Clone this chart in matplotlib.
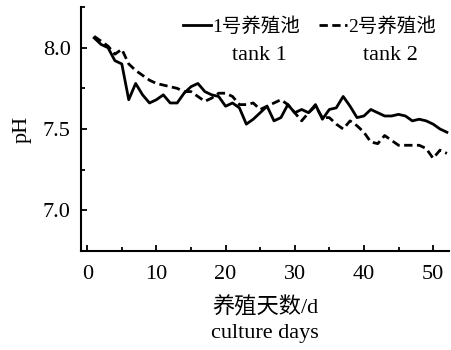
import numpy as np
import matplotlib.pyplot as plt
from matplotlib.ticker import MultipleLocator

plt.rcParams['font.family'] = ['Liberation Serif', 'Noto Sans CJK SC']
plt.rcParams['font.size'] = 16

# days of culture
days = np.arange(1, 53)

# pH, tank 1 (solid)
ph_tank1 = [8.06, 8.02, 8.00, 7.92, 7.90, 7.68, 7.78, 7.71, 7.66, 7.68,
            7.71, 7.66, 7.66, 7.72, 7.76, 7.78, 7.73, 7.71, 7.70, 7.64,
            7.66, 7.63, 7.53, 7.56, 7.60, 7.64, 7.55, 7.57, 7.65, 7.60,
            7.62, 7.60, 7.65, 7.56, 7.62, 7.63, 7.70, 7.64, 7.57, 7.58,
            7.62, 7.60, 7.58, 7.58, 7.59, 7.58, 7.55, 7.56, 7.55, 7.53,
            7.50, 7.48]

# pH, tank 2 (dashed)
ph_tank2 = [8.07, 8.04, 8.01, 7.96, 7.99, 7.90, 7.86, 7.83, 7.80, 7.78,
            7.77, 7.76, 7.75, 7.73, 7.73, 7.70, 7.67, 7.69, 7.72, 7.72,
            7.70, 7.65, 7.65, 7.66, 7.62, 7.64, 7.66, 7.68, 7.65, 7.60,
            7.55, 7.60, 7.64, 7.57, 7.57, 7.53, 7.50, 7.55, 7.52, 7.48,
            7.42, 7.41, 7.46, 7.43, 7.40, 7.40, 7.40, 7.40, 7.38, 7.32,
            7.37, 7.35]

labels_cn = ['1号养殖池', '2号养殖池']
labels_en = ['tank 1', 'tank 2']

W, H = 451, 350
fig = plt.figure(figsize=(W / 100, H / 100), dpi=100)
ax = fig.add_axes([81 / W, 1 - 251 / H, (449 - 81) / W, (251 - 7) / H])

ax.plot(days, ph_tank1, color='black', lw=2.0, label=labels_cn[0])
ax.plot(days, ph_tank2, color='black', lw=2.0, ls=(0, (3, 1.6)), label=labels_cn[1])

ax.set_xlim(-0.9, 52.3)
ax.set_ylim(6.75, 8.25)
ax.xaxis.set_major_locator(MultipleLocator(10))
ax.xaxis.set_minor_locator(MultipleLocator(5))
ax.yaxis.set_major_locator(MultipleLocator(0.5))
ax.yaxis.set_minor_locator(MultipleLocator(0.25))
ax.yaxis.set_major_formatter(plt.FormatStrFormatter('%.1f'))

for s in ['top', 'right']:
    ax.spines[s].set_visible(False)
for s in ['left', 'bottom']:
    ax.spines[s].set_linewidth(1.5)
ax.tick_params(which='both', direction='in', width=1.3)
ax.tick_params(which='major', length=4.5)
ax.tick_params(which='minor', length=3)
ax.tick_params(axis='x', pad=10)
ax.tick_params(axis='y', pad=7.5)

ax.set_ylabel('pH', labelpad=8)
ax.set_xlabel('养殖天数/d\nculture days', labelpad=9, linespacing=1.45)

leg = fig.legend(ncol=2, loc='center left', bbox_to_anchor=(183 / W, 1 - 27 / H),
                 frameon=False, fontsize=14, handlelength=1.45, handletextpad=0.05,
                 columnspacing=0.95, borderpad=0, borderaxespad=0)
fig.text(259 / W, 1 - 55 / H, labels_en[0], ha='center', va='center')
fig.text(390 / W, 1 - 55 / H, labels_en[1], ha='center', va='center')

fig.savefig('out.png', dpi=100)
